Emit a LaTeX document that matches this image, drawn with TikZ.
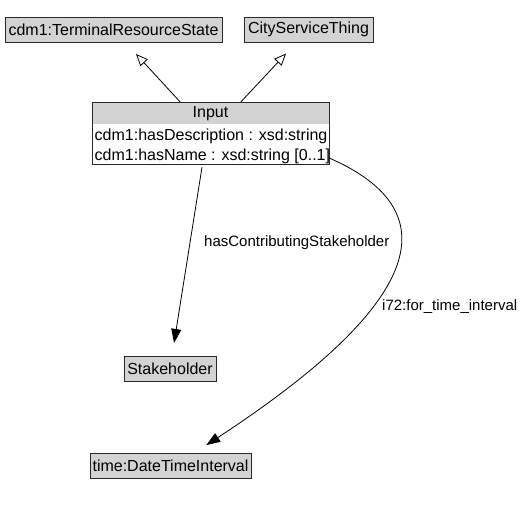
\documentclass[tikz,border=0pt]{standalone}
\usepackage{fontspec}
\setmainfont{Liberation Sans}
\usetikzlibrary{arrows.meta,calc}
\definecolor{boxgray}{RGB}{211,211,211}
\definecolor{edgegray}{RGB}{40,40,40}
\begin{document}
\begin{tikzpicture}[x=1pt,y=-1pt,
  nodefont/.style={font=\fontsize{16}{18}\selectfont},
  cls/.style={draw=edgegray, fill=boxgray, inner sep=0pt, minimum height=25pt, nodefont},
  rowtext/.style={inner sep=0pt, nodefont},
  lbl/.style={inner sep=0pt, font=\fontsize{15}{18}\selectfont},
  gen/.style={draw=black, line width=0.8pt, -{Triangle[open, length=12pt, width=10pt]}},
  assoc/.style={draw=black, line width=0.8pt, -{Triangle[length=14pt, width=10pt]}}]
\useasboundingbox (0,0) rectangle (524,516);
% class boxes
\node[cls, minimum width=217pt] (trs) at (113.5,29.5) {cdm1:TerminalResourceState};
\node[cls, minimum width=129pt] (cst) at (308.5,29.5) {CityServiceThing};
\node[cls, minimum width=92pt] (stake) at (170,368.5) {Stakeholder};
\node[cls, minimum width=161pt] (time) at (170.5,465.5) {time:DateTimeInterval};
% Input class with attributes
\fill[boxgray] (92,102) rectangle (329,124);
\node[draw=edgegray, inner sep=0pt, minimum width=237pt, minimum height=62pt] (input) at (210.5,133) {};
\node[rowtext] (inputname) at (210.5,114) {Input};
\node[rowtext, anchor=west] (attr1) at (94.5,136) {cdm1:hasDescription : xsd:string};
\node[rowtext, anchor=west] (attr2) at (94.5,156) {cdm1:hasName : xsd:string [0..1]};
% generalisations
\coordinate (g1) at ($(input.north)+(-30.5,0)$);
\coordinate (g2) at ($(input.north)+(30.5,0)$);
\draw[gen, shorten >=16pt] (g1) -- (trs);
\draw[gen, shorten >=15.5pt] (g2) -- (cst);
% associations
\coordinate (a1) at ($(input.south)+(-8.5,3)$);
\draw[assoc, shorten >=13pt] (a1) -- (stake);
\coordinate (a2) at ($(input.east)+(0,25)$);
\coordinate (tend) at ($(time.north)+(24,0)$);
\draw[assoc, shorten >=14pt] (a2) .. controls (448,210) and (428,300) .. (tend);
% labels
\node[lbl, anchor=west] (l1) at (204,243) {hasContributingStakeholder};
\node[lbl, anchor=west] (l2) at (382,307) {i72:for\_time\_interval};
\end{tikzpicture}
\end{document}
